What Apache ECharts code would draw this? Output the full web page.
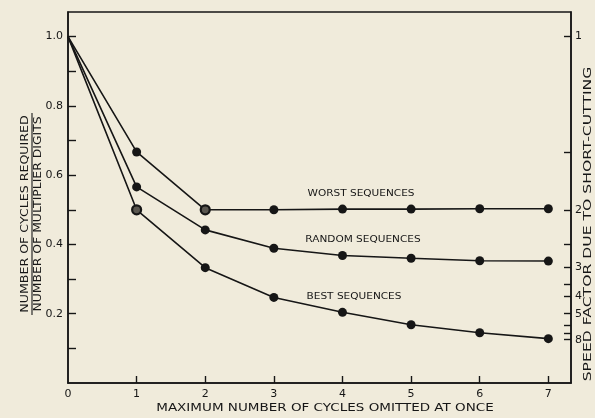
<!DOCTYPE html>
<html>
<head>
<meta charset="utf-8">
<script src="https://cdn.jsdelivr.net/npm/echarts@6/dist/echarts.min.js"></script>
<style>
  html, body { margin: 0; padding: 0; background: #f0ebdb; }
  #chart { width: 595px; height: 418px; }
</style>
</head>
<body>
<div id="chart"></div>
<script>
// ---- data ----
const xValues = [0, 1, 2, 3, 4, 5, 6, 7];
const worstSeq = [1.0, 0.667, 0.5, 0.5, 0.502, 0.502, 0.503, 0.503];
const randomSeq = [1.0, 0.566, 0.442, 0.389, 0.368, 0.36, 0.353, 0.352];
const bestSeq = [1.0, 0.5, 0.333, 0.247, 0.204, 0.168, 0.145, 0.128];
const xTickLabels = [0, 1, 2, 3, 4, 5, 6, 7];
const xTickMarks = [1, 2, 3, 4, 5, 6, 7];
const yTickLabels = [0.2, 0.4, 0.6, 0.8, 1.0];
const yTickMarks = [0.1, 0.2, 0.3, 0.4, 0.5, 0.6, 0.7, 0.8, 0.9, 1.0];
const speedTickMarks = [1, 1.5, 2, 2.5, 3, 3.5, 4, 5, 6, 7, 8];
const speedTickLabels = [1, 2, 3, 4, 5, 8];
const openWorst = [2];
const openBest = [1];

const INK = '#161616';
const BG = '#f0ebdb';
const FONT = 'DejaVu Sans';
const YMAX = 1.071;
const XMAX = 7.33;

function buildData(values, openIdx) {
  return values.map((v, i) => {
    const item = { value: [xValues[i], v] };
    if (i === 0) item.symbol = 'none';
    if (openIdx.indexOf(i) >= 0) {
      item.itemStyle = { color: '#5a5750', borderColor: INK, borderWidth: 2.2 };
    }
    return item;
  });
}

function lineSeries(name, values, openIdx) {
  return {
    name: name,
    type: 'line',
    data: buildData(values, openIdx),
    symbol: 'circle',
    symbolSize: 9,
    lineStyle: { color: INK, width: 1.6 },
    itemStyle: { color: INK },
    silent: true,
    animation: false,
    z: 3
  };
}

const chart = echarts.init(document.getElementById('chart'), null, { renderer: 'canvas' });

const axisCommon = {
  axisLine: { show: true, lineStyle: { color: INK, width: 1.5 } },
  splitLine: { show: false }
};

chart.setOption({
  backgroundColor: BG,
  animation: false,
  grid: {
    left: 68, right: 24, top: 12, bottom: 35,
    show: true, borderColor: INK, borderWidth: 1.5, backgroundColor: 'transparent'
  },
  xAxis: Object.assign({
    type: 'value', min: 0, max: XMAX,
    axisTick: { show: true, inside: true, length: 7, lineStyle: { color: INK, width: 1.4 }, customValues: xTickMarks },
    axisLabel: {
      customValues: xTickLabels, margin: 6,
      color: INK, fontFamily: FONT, fontSize: 11,
      formatter: v => String(Math.round(v))
    }
  }, axisCommon),
  yAxis: [
    Object.assign({
      type: 'value', min: 0, max: YMAX, position: 'left',
      axisTick: { show: true, inside: true, length: 8, lineStyle: { color: INK, width: 1.4 }, customValues: yTickMarks },
      axisLabel: {
        customValues: yTickLabels, margin: 5,
        color: INK, fontFamily: FONT, fontSize: 11,
        formatter: v => v.toFixed(1)
      }
    }, axisCommon),
    Object.assign({
      type: 'value', min: 0, max: YMAX, position: 'right',
      axisTick: { show: true, inside: true, length: 7, lineStyle: { color: INK, width: 1.4 },
        customValues: speedTickMarks.map(s => 1 / s) },
      axisLabel: {
        customValues: speedTickLabels.map(s => 1 / s), margin: 4,
        color: INK, fontFamily: FONT, fontSize: 11,
        formatter: v => String(Math.round(1 / v))
      }
    }, axisCommon)
  ],
  series: [
    lineSeries('WORST SEQUENCES', worstSeq, openWorst),
    lineSeries('RANDOM SEQUENCES', randomSeq, []),
    lineSeries('BEST SEQUENCES', bestSeq, openBest)
  ],
  graphic: [
    { type: 'text', x: 361, y: 194, scaleX: 1.17, silent: true,
      style: { text: 'WORST SEQUENCES', fill: INK, font: '9px "DejaVu Sans"', textAlign: 'center', textVerticalAlign: 'middle' } },
    { type: 'text', x: 363, y: 240, scaleX: 1.17, silent: true,
      style: { text: 'RANDOM SEQUENCES', fill: INK, font: '9px "DejaVu Sans"', textAlign: 'center', textVerticalAlign: 'middle' } },
    { type: 'text', x: 354, y: 297, scaleX: 1.17, silent: true,
      style: { text: 'BEST SEQUENCES', fill: INK, font: '9px "DejaVu Sans"', textAlign: 'center', textVerticalAlign: 'middle' } },
    { type: 'text', x: 325, y: 408, scaleX: 1.35, silent: true,
      style: { text: 'MAXIMUM NUMBER OF CYCLES OMITTED AT ONCE', fill: INK, font: '10px "DejaVu Sans"', textAlign: 'center', textVerticalAlign: 'middle' } },
    { type: 'text', x: 25.5, y: 214, rotation: Math.PI / 2, scaleX: 1.2, silent: true,
      style: { text: 'NUMBER OF CYCLES REQUIRED', fill: INK, font: '10.5px "DejaVu Sans"', textAlign: 'center', textVerticalAlign: 'middle' } },
    { type: 'line', silent: true,
      shape: { x1: 32, y1: 113, x2: 32, y2: 315 },
      style: { stroke: INK, lineWidth: 1.1 } },
    { type: 'text', x: 38.5, y: 214, rotation: Math.PI / 2, scaleX: 1.18, silent: true,
      style: { text: 'NUMBER OF MULTIPLIER DIGITS', fill: INK, font: '10.5px "DejaVu Sans"', textAlign: 'center', textVerticalAlign: 'middle' } },
    { type: 'text', x: 588, y: 224, rotation: Math.PI / 2, scaleX: 1.42, silent: true,
      style: { text: 'SPEED FACTOR DUE TO SHORT-CUTTING', fill: INK, font: '11px "DejaVu Sans"', textAlign: 'center', textVerticalAlign: 'middle' } }
  ]
});
</script>
</body>
</html>
